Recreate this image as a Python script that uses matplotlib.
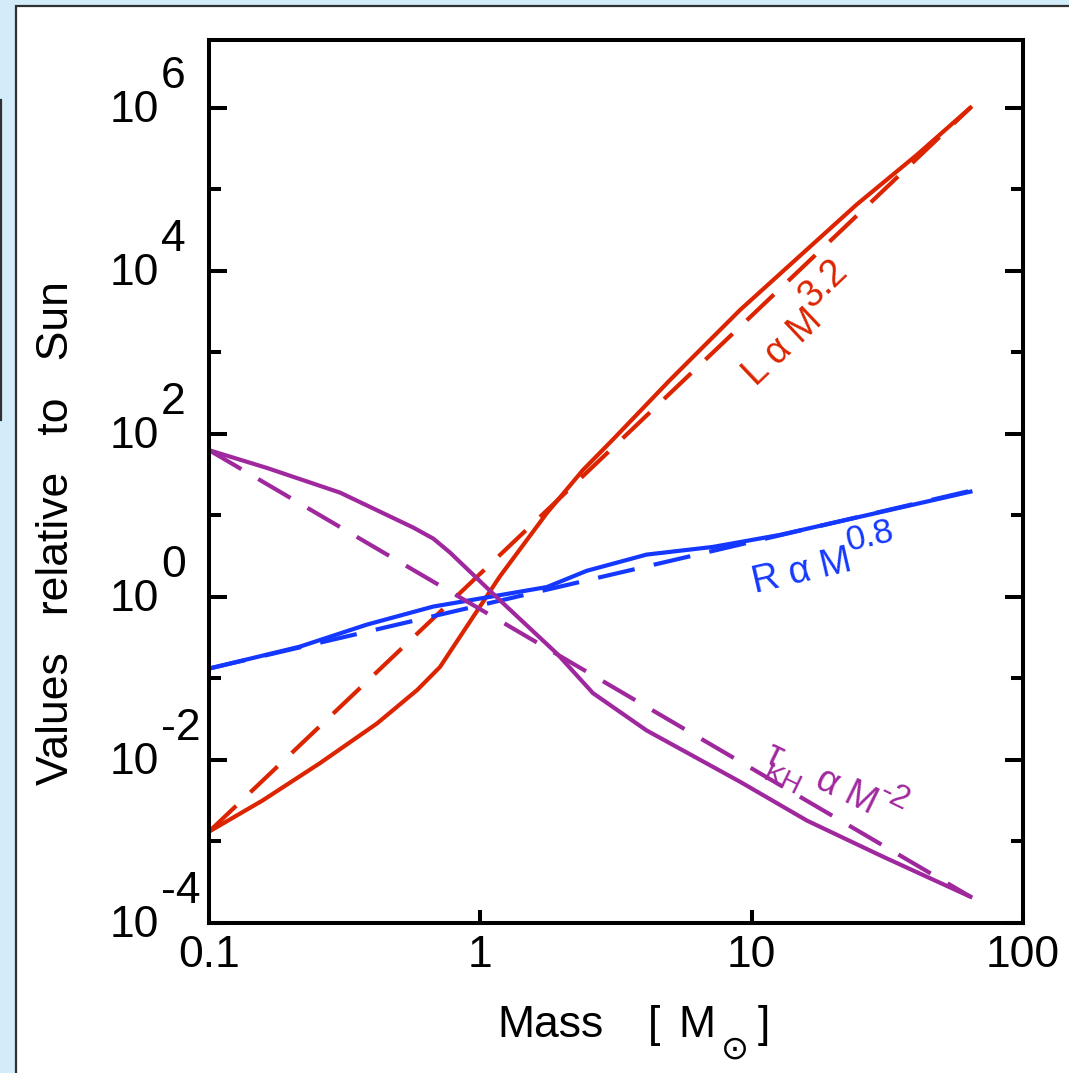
import numpy as np
import matplotlib
matplotlib.use('Agg')
import matplotlib.pyplot as plt
import matplotlib.transforms as mtransforms
from matplotlib.patches import Rectangle
from matplotlib.lines import Line2D
from matplotlib.ticker import FixedLocator, NullLocator, FixedFormatter

plt.rcParams['font.family'] = ['Liberation Sans', 'DejaVu Sans']

# main-sequence relations, in solar units
mass_L = [0.1, 0.158, 0.256, 0.416, 0.585, 0.71, 0.89, 1.18, 1.76, 2.39, 3.08, 5.0, 9.06, 24.4, 40.7, 64]
lum = [1.32e-3, 3.2e-3, 9.1e-3, 0.028, 0.072, 0.138, 0.43, 1.78, 10.7, 36, 85, 457, 3300, 6.5e4, 2.65e5, 1.0e6]

mass_R = [0.1, 0.216, 0.382, 0.67, 1.18, 1.76, 2.47, 4.1, 7.2, 12.7, 64]
radius = [0.132, 0.245, 0.457, 0.76, 1.05, 1.32, 2.09, 3.3, 4.1, 5.75, 19.5]

mass_t = [0.1, 0.164, 0.304, 0.565, 0.67, 0.773, 1.18, 1.92, 2.6, 4.1, 9.06, 16.0, 30.5, 64]
t_kh = [63, 38, 19, 7.1, 5.2, 3.5, 0.91, 0.20, 0.066, 0.023, 5.4e-3, 1.8e-3, 6.5e-4, 2.1e-4]

# power-law approximations (end points)
fit_mass = [0.1, 64]
L_fit = [1.32e-3, 1.0e6]
R_fit = [0.132, 20]
t_fit = [63, 2.1e-4]

x_ticks = [0.1, 1, 10, 100]
x_labels = ['0.1', '1', '10', '100']
y_exps = [-4, -2, 0, 2, 4, 6]
y_minor_exps = [-3, -1, 1, 3, 5]

RED = '#dc2400'
BLUE = '#1438ff'
PURPLE = '#a0289e'

W, H = 1069, 1073
fig = plt.figure(figsize=(W / 100, H / 100), dpi=100, facecolor='#d3ecfa')
fig.patches.append(Rectangle((16 / W, -0.01), 1.0, 1.01 - 6 / H, transform=fig.transFigure,
                             facecolor='white', edgecolor='#303030', lw=1.6, zorder=-5))
fig.lines.append(Line2D([1 / W, 1 / W], [1 - 100 / H, 1 - 420 / H], transform=fig.transFigure,
                        color='#303030', lw=1.6, zorder=-4))

ax = fig.add_axes([209 / W, 1 - 923 / H, (1023 - 209) / W, (923 - 40) / H])
ax.patch.set_alpha(0)
ax.set_xscale('log')
ax.set_yscale('log')
ax.set_xlim(0.1, 100)
ax.set_ylim(1e-4, 10 ** 6.83)

lw = 3.0
dash = (9, 4.7)
ax.plot(mass_L, lum, color=RED, lw=lw)
ax.plot(fit_mass, L_fit, color=RED, lw=lw, dashes=dash)
ax.plot(mass_R, radius, color=BLUE, lw=lw)
ax.plot(fit_mass, R_fit, color=BLUE, lw=lw, dashes=dash)
ax.plot(mass_t, t_kh, color=PURPLE, lw=lw)
ax.plot(fit_mass, t_fit, color=PURPLE, lw=lw, dashes=dash)

for sp in ax.spines.values():
    sp.set_linewidth(2.9)

ax.xaxis.set_major_locator(FixedLocator(x_ticks))
ax.xaxis.set_major_formatter(FixedFormatter(x_labels))
ax.xaxis.set_minor_locator(NullLocator())
ax.yaxis.set_major_locator(FixedLocator([10.0 ** e for e in y_exps]))
ax.yaxis.set_minor_locator(FixedLocator([10.0 ** e for e in y_minor_exps]))
ax.tick_params(axis='x', which='major', direction='in', length=9.4, width=2.9,
               labelsize=32, pad=8.6)
ax.tick_params(axis='y', which='major', direction='in', length=13, width=2.9,
               left=True, right=True, labelleft=False)
ax.tick_params(axis='y', which='minor', direction='in', length=8.6, width=2.9,
               left=True, right=True, labelleft=False)

# y tick labels with full-size exponents
ytrans = ax.get_yaxis_transform()
for e in y_exps:
    ax.text(0, 10.0 ** e, '10', fontsize=32, ha='right', va='baseline',
            transform=mtransforms.offset_copy(ytrans, fig, x=-50, y=-14, units='dots'))
    ax.text(0, 10.0 ** e, str(e), fontsize=32, ha='left', va='baseline',
            transform=mtransforms.offset_copy(ytrans, fig, x=-48, y=20, units='dots'))

fig.text(57 / W, 1 - 533 / H, 'Values   relative   to   Sun', fontsize=32,
         rotation=90, ha='center', va='center')
fig.text(497 / W, 1 - 1037 / H, 'Mass', fontsize=32, ha='left', va='baseline')
fig.text(648 / W, 1 - 1037 / H, '[', fontsize=32, ha='left', va='baseline')
fig.text(678 / W, 1 - 1037 / H, 'M', fontsize=32, ha='left', va='baseline')
fig.text(735 / W, 1 - 1049 / H, '\u2299', fontsize=24, ha='center', va='center',
         family=['DejaVu Sans'])
fig.text(758 / W, 1 - 1037 / H, ']', fontsize=32, ha='left', va='baseline')

renderer = fig.canvas.get_renderer()


def slanted_label(x, y, pieces, angle, color):
    """Lay text pieces along a rotated baseline starting at data point (x, y)."""
    x0, y0 = ax.transData.transform((x, y))
    c, s = np.cos(np.radians(angle)), np.sin(np.radians(angle))
    adv = 0.0
    for txt, size, rise, shift in pieces:
        adv += shift
        probe = fig.text(0, 0, txt, fontsize=size)
        width = probe.get_window_extent(renderer).width
        probe.remove()
        px = x0 + adv * c - rise * s
        py = y0 + adv * s + rise * c
        ax.text(px, py, txt, fontsize=size, color=color, rotation=angle,
                rotation_mode='anchor', ha='left', va='baseline',
                transform=mtransforms.IdentityTransform())
        adv += width


slanted_label(10.4, 380, [('L \u03b1 M', 27, 0, 0), ('3.2', 27, 18, 0)], 43.5, RED)
slanted_label(10.3, 1.12, [('R \u03b1 M', 27, 0, 0), ('0.8', 25, 20, 0)], 13, BLUE)
slanted_label(11.0, 0.0095, [('\u03c4', 27, 0, 0), ('KH', 20, -16, -8),
                             (' \u03b1 M', 27, 0, 0), ('-2', 24, 18, 0)], -26, PURPLE)

fig.savefig('out.png', dpi=100, facecolor=fig.get_facecolor())
